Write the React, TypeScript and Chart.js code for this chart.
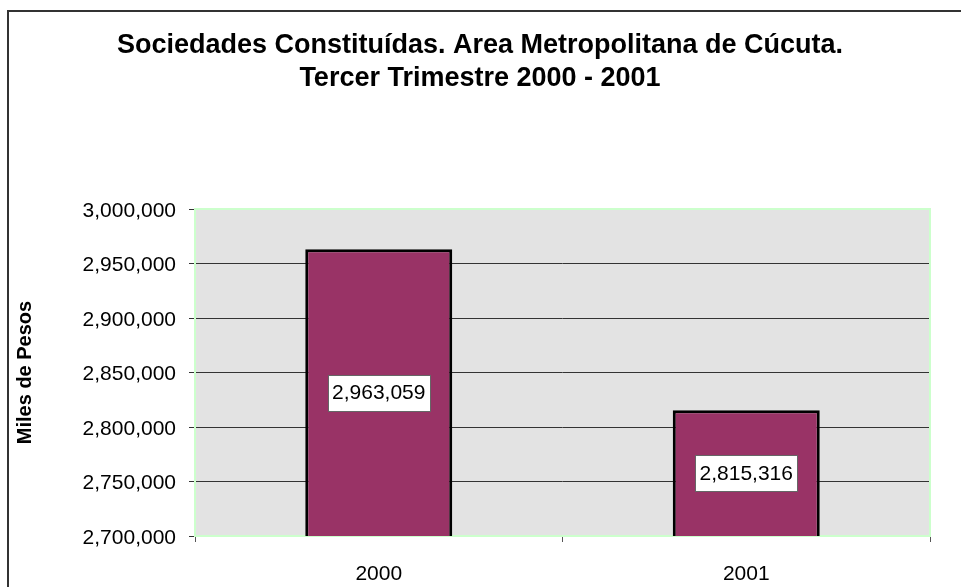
import React, { useEffect, useRef } from "react";
import { Chart, registerables } from "chart.js";

Chart.register(...registerables);

const categories = ["2000", "2001"];
const values = [2963059, 2815316];
const titleLines = ["Sociedades Constituídas. Area Metropolitana de Cúcuta.", "Tercer Trimestre 2000 - 2001"];
const yAxisTitle = "Miles de Pesos";
const yMin = 2700000;
const yMax = 3000000;
const yStep = 50000;

const FONT = "'Liberation Sans', Arial, sans-serif";
const fmt = (v: number) => v.toLocaleString("en-US");

const decorPlugin = {
  id: "decor",
  beforeDraw(chart: any) {
    const { ctx, chartArea: a, width, height } = chart;
    ctx.save();
    ctx.fillStyle = "#ffffff";
    ctx.fillRect(0, 0, width, height);
    // outer border
    ctx.strokeStyle = "#333333";
    ctx.lineWidth = 2;
    ctx.strokeRect(8, 11, width + 20, height + 20);
    // plot background
    ctx.fillStyle = "#e3e3e3";
    ctx.fillRect(a.left, a.top, a.right - a.left, a.bottom - a.top);
    // title
    ctx.fillStyle = "#000";
    ctx.font = `bold 27px ${FONT}`;
    ctx.textAlign = "center";
    ctx.textBaseline = "middle";
    ctx.fillText(titleLines[0], 480, 46);
    ctx.fillText(titleLines[1], 480, 79);
    // y axis title
    ctx.save();
    ctx.translate(25, (a.top + a.bottom) / 2);
    ctx.rotate(-Math.PI / 2);
    ctx.font = `bold 20px ${FONT}`;
    ctx.fillText(yAxisTitle, 0, 0);
    ctx.restore();
    ctx.restore();
  },
  beforeDatasetsDraw(chart: any) {
    const { ctx, chartArea: a } = chart;
    ctx.save();
    ctx.strokeStyle = "#ccffcc";
    ctx.lineWidth = 2;
    ctx.strokeRect(a.left, a.top, a.right - a.left, a.bottom - a.top);
    ctx.restore();
  },
  afterDraw(chart: any) {
    const { ctx } = chart;
    const meta = chart.getDatasetMeta(0);
    const yScale = chart.scales.y;
    ctx.save();
    ctx.font = `21px ${FONT}`;
    ctx.textAlign = "center";
    ctx.textBaseline = "middle";
    meta.data.forEach((bar: any, i: number) => {
      const cx = bar.x;
      const top = yScale.getPixelForValue(values[i]);
      const cy = (top + yScale.bottom) / 2;
      const w = 102;
      const h = 36;
      const l = Math.round(cx - w / 2);
      const t = Math.round(cy - h / 2);
      ctx.fillStyle = "#ffffff";
      ctx.fillRect(l, t, w, h);
      ctx.strokeStyle = "#666666";
      ctx.lineWidth = 1;
      ctx.strokeRect(l + 0.5, t + 0.5, w, h);
      ctx.fillStyle = "#000";
      ctx.fillText(fmt(values[i]), cx, cy + 1);
    });
    ctx.restore();
  },
};

export default function App() {
  const ref = useRef<HTMLCanvasElement>(null);
  useEffect(() => {
    const chart = new Chart(ref.current!, {
      type: "bar",
      data: {
        labels: categories,
        datasets: [
          {
            data: values,
            backgroundColor: "#993366",
            borderColor: "#000000",
            borderWidth: 3,
            borderSkipped: false,
            barPercentage: 0.4,
            categoryPercentage: 1,
          },
        ],
      },
      options: {
        responsive: false,
        animation: false,
        events: [],
        layout: { padding: { top: 209, right: 31, left: 0, bottom: 0 } },
        plugins: { legend: { display: false }, title: { display: false }, tooltip: { enabled: false } },
        scales: {
          x: {
            afterFit: (s: any) => { s.height = 51; },
            border: { display: false },
            grid: { display: true, offset: true, drawOnChartArea: false, drawTicks: true, tickLength: 6, color: "#555555" },
            ticks: { color: "#000", font: { family: FONT, size: 21 }, padding: 20 },
          },
          y: {
            min: yMin,
            max: yMax,
            afterFit: (s: any) => { s.width = 195; },
            border: { display: false },
            grid: { color: "#333333", lineWidth: 1, tickLength: 6 },
            ticks: { stepSize: yStep, color: "#000", font: { family: FONT, size: 21 }, padding: 13, labelOffset: 2, callback: (v: any) => fmt(Number(v)) },
          },
        },
      },
      plugins: [decorPlugin],
    });
    return () => chart.destroy();
  }, []);
  return (
    <div style={{ position: "fixed", left: 0, top: 0, width: 961, height: 587 }}>
      <canvas ref={ref} width={961} height={587} style={{ display: "block" }} />
    </div>
  );
}
